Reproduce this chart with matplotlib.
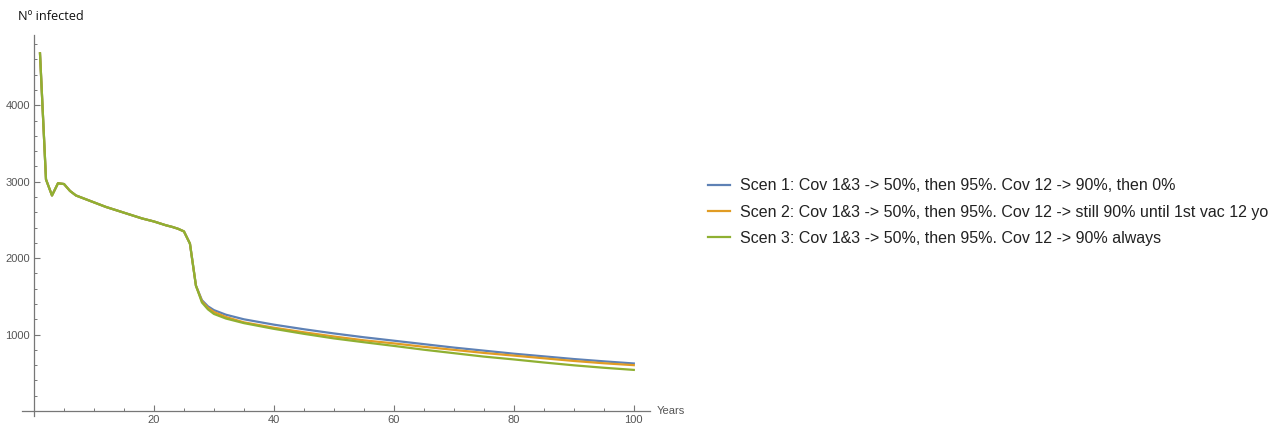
import numpy as np
import matplotlib
matplotlib.use("Agg")
import matplotlib.pyplot as plt
from matplotlib.ticker import MultipleLocator

plt.rcParams['font.family'] = ['Liberation Sans', 'DejaVu Sans']

# shared part (years 1..27)
years_early = list(range(1, 28))
vals_early = [4680, 3030, 2820, 2980, 2970, 2880, 2820, 2790, 2760, 2730,
              2700, 2670, 2645, 2620, 2595, 2570, 2545, 2520, 2500, 2480,
              2455, 2430, 2410, 2385, 2350, 2190, 1640]

years_late = [28, 29, 30, 32, 35, 40, 45, 50, 55, 60, 65, 70, 75, 80, 85, 90, 95, 100]
scen1 = [1450, 1370, 1320, 1260, 1200, 1130, 1070, 1015, 965, 920, 875, 830, 790, 750, 715, 680, 650, 622]
scen2 = [1435, 1350, 1295, 1230, 1160, 1090, 1030, 975, 925, 885, 840, 800, 760, 725, 690, 655, 625, 600]
scen3 = [1420, 1330, 1270, 1210, 1150, 1075, 1010, 950, 900, 852, 802, 757, 712, 675, 635, 598, 566, 538]

labels = ["Scen 1: Cov 1&3 -> 50%, then 95%. Cov 12 -> 90%, then 0%",
          "Scen 2: Cov 1&3 -> 50%, then 95%. Cov 12 -> still 90% until 1st vac 12 yo",
          "Scen 3: Cov 1&3 -> 50%, then 95%. Cov 12 -> 90% always"]
colors = ['#5E81B5', '#E19C24', '#8FB032']

fig = plt.figure(figsize=(12.76, 4.30), dpi=100)
ax = fig.add_axes([22/1276, 1 - 415.6/430, 628/1276, (415.6 - 35)/430])

x_all = years_early + years_late
handles = []
for s, c, lab in zip([scen1, scen2, scen3], colors, labels):
    h, = ax.plot(x_all, vals_early + s, color=c, lw=1.6, label=lab)
    handles.append(h)

ax.set_xlim(-2, 102.7)
ax.set_ylim(-60, 4920)
ax.spines['left'].set_position(('data', 0))
ax.spines['bottom'].set_position(('data', 0))
ax.spines['right'].set_visible(False)
ax.spines['top'].set_visible(False)
for sp in ['left', 'bottom']:
    ax.spines[sp].set_color('#777777')
    ax.spines[sp].set_linewidth(0.9)

ax.xaxis.set_minor_locator(MultipleLocator(5))
ax.yaxis.set_minor_locator(MultipleLocator(200))
ax.set_xticks([20, 40, 60, 80, 100])
ax.set_yticks([1000, 2000, 3000, 4000])
ax.tick_params(which='major', direction='in', length=4, width=0.8, color='#777777',
               labelsize=8, labelcolor='#555555')
ax.tick_params(which='minor', direction='in', length=2.5, width=0.7, color='#777777')
ax.tick_params(axis='x', pad=3)
ax.tick_params(axis='y', pad=3)
ax.set_facecolor('none')

fig.text(657/1276, 1 - 411/430, "Years", fontsize=8, color='#555555', va='center', ha='left')
fig.text(18/1276, 1 - 16/430, "Nº infected", fontsize=9.2, color='#111111', va='center', ha='left',
         family=['Open Sans', 'DejaVu Sans'])

fig.legend(handles=handles, labels=labels, loc='center left',
           bbox_to_anchor=(694/1276, 1 - 212/430), frameon=False, fontsize=11.5,
           handlelength=1.38, handletextpad=0.62, labelspacing=0.69, labelcolor='#222222')

fig.savefig("out.png", dpi=100)
